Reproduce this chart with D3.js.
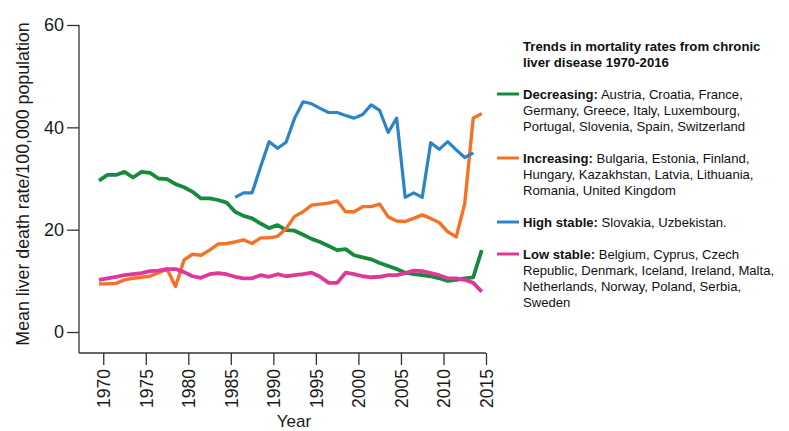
<!DOCTYPE html>
<html>
<head>
<meta charset="utf-8">
<script src="https://cdn.jsdelivr.net/npm/d3@7"></script>
<style>
  html, body { margin: 0; padding: 0; background: #fff; }
  svg { display: block; font-family: "Liberation Sans", Arial, sans-serif; }
</style>
</head>
<body>
<svg id="chart" width="789" height="431"></svg>
<script>
// Years of observation
const years = [1970,1971,1972,1973,1974,1975,1976,1977,1978,1979,
  1980,1981,1982,1983,1984,1985,1986,1987,1988,1989,
  1990,1991,1992,1993,1994,1995,1996,1997,1998,1999,
  2000,2001,2002,2003,2004,2005,2006,2007,2008,2009,
  2010,2011,2012,2013,2014,2015];

// Mean liver death rate per 100,000 population, by trend group
const decreasing = [29.6,30.7,30.7,31.3,30.2,31.3,31.1,30.0,29.9,28.9,
  28.3,27.4,26.1,26.1,25.8,25.3,23.5,22.7,22.2,21.2,
  20.3,20.9,19.9,19.8,19.0,18.2,17.6,16.8,16.0,16.2,
  15.0,14.6,14.2,13.5,12.9,12.3,11.6,11.3,11.1,10.9,
  10.5,10.0,10.2,10.5,10.7,16.0];

const increasing = [9.4,9.4,9.5,10.2,10.5,10.7,10.9,11.6,12.3,8.9,
  14.1,15.2,15.0,16.0,17.2,17.3,17.6,18.0,17.3,18.4,
  18.4,18.7,20.2,22.6,23.5,24.8,25.0,25.2,25.6,23.5,
  23.5,24.5,24.5,25.0,22.5,21.7,21.6,22.2,22.9,22.2,
  21.4,19.6,18.6,25.1,41.8,42.7];

// Only reported from 1986 to 2014
const highStable = [null,null,null,null,null,null,null,null,null,null,
  null,null,null,null,null,null,26.3,27.2,27.2,32.3,
  37.2,35.9,37.1,41.8,45.0,44.6,43.7,42.9,42.9,42.3,
  41.8,42.5,44.4,43.3,39.0,41.8,26.3,27.2,26.3,37.0,
  35.7,37.2,35.6,34.1,35.0,null];

const lowStable = [10.2,10.5,10.8,11.1,11.3,11.5,11.9,12.0,12.3,12.3,
  11.7,10.9,10.6,11.3,11.5,11.3,10.8,10.5,10.5,11.1,
  10.8,11.3,10.9,11.1,11.3,11.6,10.8,9.6,9.6,11.6,
  11.3,10.9,10.7,10.8,11.1,11.1,11.5,12.0,11.9,11.5,
  11.1,10.5,10.5,10.2,9.6,7.9];

const yTicks = [0, 20, 40, 60];
const xTicks = [1970,1975,1980,1985,1990,1995,2000,2005,2010,2015];

const legendTitle = ["Trends in mortality rates from chronic", "liver disease 1970-2016"];

const groups = [
  { key: "Decreasing", values: decreasing, color: "#168b3e", width: 3.8,
    label: "Decreasing:",
    lines: [" Austria, Croatia, France,", "Germany, Greece, Italy, Luxembourg,", "Portugal, Slovenia, Spain, Switzerland"] },
  { key: "Increasing", values: increasing, color: "#f47126", width: 3.4,
    label: "Increasing:",
    lines: [" Bulgaria, Estonia, Finland,", "Hungary, Kazakhstan, Latvia, Lithuania,", "Romania, United Kingdom"] },
  { key: "High stable", values: highStable, color: "#2b84c5", width: 3.2,
    label: "High stable:",
    lines: [" Slovakia, Uzbekistan."] },
  { key: "Low stable", values: lowStable, color: "#e0379a", width: 3.8,
    label: "Low stable:",
    lines: [" Belgium, Cyprus, Czech", "Republic, Denmark, Iceland, Ireland, Malta,", "Netherlands, Norway, Poland, Serbia,", "Sweden"] }
];

const svg = d3.select("#chart");

// Plot frame
const plot = { left: 79, right: 486, top: 25, bottom: 353 };

const x = d3.scaleLinear().domain([1967.15, 2015]).range([plot.left, plot.right]);
const y = d3.scaleLinear().domain([-4.1, 60]).range([plot.bottom, plot.top]);

// Annual points sit half a year ahead of the year ticks
const pointShift = 0.5;

const axisColor = "#333";
const textColor = "#1a1a1a";

// Y axis
const yAxis = svg.append("g")
  .attr("transform", `translate(${plot.left},0)`)
  .call(d3.axisLeft(y).tickValues(yTicks).tickSize(12).tickPadding(3).tickSizeOuter(0));
yAxis.select(".domain").attr("stroke", axisColor).attr("stroke-width", 1.3)
  .attr("d", `M0,${plot.top}V${plot.bottom}`);
yAxis.selectAll(".tick line").attr("stroke", axisColor).attr("stroke-width", 1.3);
yAxis.selectAll(".tick text").attr("font-size", 18).attr("fill", textColor)
  .attr("font-family", "Liberation Sans, Arial, sans-serif");

// X axis
const xAxis = svg.append("g")
  .attr("transform", `translate(0,${plot.bottom})`)
  .call(d3.axisBottom(x).tickValues(xTicks).tickFormat(d3.format("d")).tickSize(12).tickSizeOuter(0));
xAxis.select(".domain").attr("stroke", axisColor).attr("stroke-width", 1.3)
  .attr("d", `M${plot.left},0H${plot.right}`);
xAxis.selectAll(".tick line").attr("stroke", axisColor).attr("stroke-width", 1.3);
xAxis.selectAll(".tick text")
  .attr("font-size", 17.5).attr("fill", textColor)
  .attr("font-family", "Liberation Sans, Arial, sans-serif")
  .attr("text-anchor", "end")
  .attr("transform", "rotate(-90)")
  .attr("x", -16).attr("y", 0).attr("dy", "0.36em");

// Axis titles
svg.append("text")
  .attr("x", 294).attr("y", 427)
  .attr("text-anchor", "middle")
  .attr("font-size", 17).attr("fill", textColor)
  .text("Year");

svg.append("text")
  .attr("transform", "translate(29,184) rotate(-90)")
  .attr("text-anchor", "middle")
  .attr("font-size", 17.8).attr("fill", textColor)
  .text("Mean liver death rate/100,000 population");

// Series lines
const line = d3.line()
  .defined(d => d.v != null)
  .x(d => x(d.year - pointShift))
  .y(d => y(d.v));

svg.append("g").selectAll("path")
  .data(groups)
  .join("path")
  .attr("fill", "none")
  .attr("stroke", g => g.color)
  .attr("stroke-width", g => g.width)
  .attr("stroke-linejoin", "round")
  .attr("stroke-linecap", "butt")
  .attr("d", g => line(years.map((yr, i) => ({ year: yr, v: g.values[i] }))));

// Legend
const legend = svg.append("g").attr("transform", "translate(523,0)");

legend.append("text")
  .attr("font-size", 13.2).attr("font-weight", "bold").attr("fill", "#111")
  .selectAll("tspan")
  .data(legendTitle)
  .join("tspan")
  .attr("x", 0)
  .attr("y", (d, i) => 50.5 + i * 16.5)
  .text(d => d);

const firstBaselines = [99, 163, 227, 259];
const lineStep = 16;

groups.forEach((g, gi) => {
  const base = firstBaselines[gi];
  legend.append("line")
    .attr("x1", -26).attr("x2", -4)
    .attr("y1", base - 5).attr("y2", base - 5)
    .attr("stroke", g.color).attr("stroke-width", 3);

  const t = legend.append("text").attr("font-size", 13.1).attr("fill", "#111");
  g.lines.forEach((ln, li) => {
    if (li === 0) {
      t.append("tspan").attr("x", 0).attr("y", base)
        .attr("font-weight", "bold").text(g.label);
      t.append("tspan").text(ln);
    } else {
      t.append("tspan").attr("x", 0).attr("y", base + li * lineStep).text(ln);
    }
  });
});
</script>
</body>
</html>
